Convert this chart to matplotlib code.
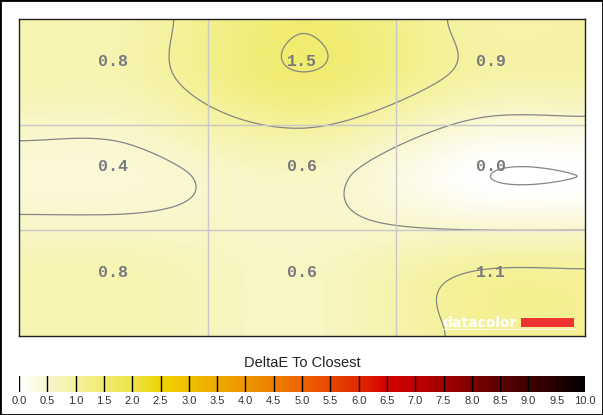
import numpy as np
import matplotlib
matplotlib.use("Agg")
import matplotlib.pyplot as plt
from matplotlib.colors import LinearSegmentedColormap, Normalize
from matplotlib.patches import Rectangle

# measured DeltaE per zone, top row first
delta_e = np.array([
    [0.8, 1.5, 0.9],
    [0.4, 0.6, 0.0],
    [0.8, 0.6, 1.1],
])
contour_levels = [0.0, 0.5, 1.0, 1.5]
cbar_ticks = np.arange(0, 10.01, 0.5)
cbar_title = "DeltaE To Closest"

# colour scale 0..10 as in the legend bar
cmap_stops = [
    (0.00, "#ffffff"), (0.05, "#f9f7cc"), (0.10, "#f5f29c"), (0.15, "#f0ec70"),
    (0.20, "#eee44a"), (0.25, "#f0d400"), (0.30, "#f0c000"), (0.35, "#eeaa00"),
    (0.40, "#ee9600"), (0.45, "#ee7e00"), (0.50, "#ee6400"), (0.55, "#e84800"),
    (0.60, "#e02a00"), (0.65, "#d40000"), (0.70, "#c00000"), (0.75, "#a40000"),
    (0.80, "#800000"), (0.85, "#600000"), (0.90, "#400000"), (0.95, "#280000"),
    (1.00, "#000000"),
]
cmap = LinearSegmentedColormap.from_list("de", cmap_stops)
norm = Normalize(0, 10)
TENSION = 0.4


def hermite(t, v, xs):
    # cardinal spline on uneven knots
    n = len(t)
    m = np.zeros(n)
    m[0] = (v[1] - v[0]) / (t[1] - t[0])
    m[-1] = (v[-1] - v[-2]) / (t[-1] - t[-2])
    for i in range(1, n - 1):
        m[i] = (v[i + 1] - v[i - 1]) / (t[i + 1] - t[i - 1])
    m = m * (1 - TENSION)
    k = np.clip(np.searchsorted(t, xs) - 1, 0, n - 2)
    h = t[k + 1] - t[k]
    u = (xs - t[k]) / h
    h00 = 2 * u**3 - 3 * u**2 + 1
    h10 = u**3 - 2 * u**2 + u
    h01 = -2 * u**3 + 3 * u**2
    h11 = u**3 - u**2
    return h00 * v[k] + h10 * h * m[k] + h01 * v[k + 1] + h11 * h * m[k + 1]


# edge values: replicate, nudged a hair towards the inner neighbour
padded = np.pad(delta_e, 1, mode="edge").astype(float)
padded[0, 1:-1] = delta_e[0] + 0.015 * (delta_e[1] - delta_e[0])
padded[-1, 1:-1] = delta_e[-1] + 0.003 * (delta_e[-2] - delta_e[-1])
padded[1:-1, 0] = delta_e[:, 0] + 0.003 * (delta_e[:, 1] - delta_e[:, 0])
padded[1:-1, -1] = delta_e[:, -1] + 0.002 * (delta_e[:, -2] - delta_e[:, -1])

knots = np.array([0, 0.5, 1.5, 2.5, 3.0])
xs = np.linspace(0, 3, 600)
ys = np.linspace(0, 3, 330)
rows = np.array([hermite(knots, r, xs) for r in padded])
field = np.array([hermite(knots, rows[:, j], ys) for j in range(len(xs))]).T

fig = plt.figure(figsize=(6.03, 4.15), dpi=100)
fig.patches.append(Rectangle((0, 0), 1, 1, transform=fig.transFigure,
                             fill=False, edgecolor="black", lw=2))

ax = fig.add_axes([19 / 603, 1 - 336 / 415, 566 / 603, 317 / 415])
ax.imshow(field, cmap=cmap, norm=norm, extent=[0, 3, 3, 0], aspect="auto",
          interpolation="bilinear")
X, Y = np.meshgrid(xs, ys)
ax.contour(X, Y, field, levels=contour_levels, colors="#858585", linewidths=0.9)
for g in [1, 2]:
    ax.axvline(g, color="#c8c8c8", lw=1)
    ax.axhline(g, color="#c8c8c8", lw=1)
for i in range(3):
    for j in range(3):
        ax.text(j + 0.5, i + 0.4, f"{delta_e[i, j]:.1f}", ha="center", va="center",
                family="Liberation Mono", weight="bold", fontsize=12, color="#78787f")
ax.set_xlim(0, 3)
ax.set_ylim(3, 0)
ax.set_xticks([])
ax.set_yticks([])
for s in ax.spines.values():
    s.set_color("#202020")
    s.set_linewidth(1)

# datacolor badge
ax.text((442 - 19) / 566, (336 - 327) / 317, "datacolor", transform=ax.transAxes,
        color="white", weight="bold", fontsize=10, family="DejaVu Sans",
        ha="left", va="baseline")
ax.add_patch(Rectangle(((521 - 19) / 566, (336 - 327) / 317), 53 / 566, 9 / 317,
                       transform=ax.transAxes, color="#ee3333", lw=0))
ax.plot([(442 - 19) / 566, (574 - 19) / 566], [(336 - 329) / 317] * 2,
        transform=ax.transAxes, color="white", lw=0.8, alpha=0.8)

cax = fig.add_axes([19 / 603, 1 - 392 / 415, 566 / 603, 16 / 415])
grad = np.linspace(0, 10, 1000).reshape(1, -1)
cax.imshow(grad, cmap=cmap, norm=norm, extent=[0, 10, 0, 1], aspect="auto")
for t in cbar_ticks[:-1]:
    cax.axvline(t, color="black", lw=1)
cax.set_xlim(0, 10)
cax.set_ylim(0, 1)
cax.set_yticks([])
cax.set_xticks(cbar_ticks)
cax.set_xticklabels([f"{t:.1f}" for t in cbar_ticks], family="Liberation Sans",
                    fontsize=8, color="#333333")
cax.tick_params(axis="x", length=0, pad=3)
for s in cax.spines.values():
    s.set_visible(False)
fig.text(302 / 603, 1 - 363 / 415, cbar_title, ha="center", va="center",
         family="Liberation Sans", fontsize=10.5, color="#222222")

fig.savefig("out.png", dpi=100)
